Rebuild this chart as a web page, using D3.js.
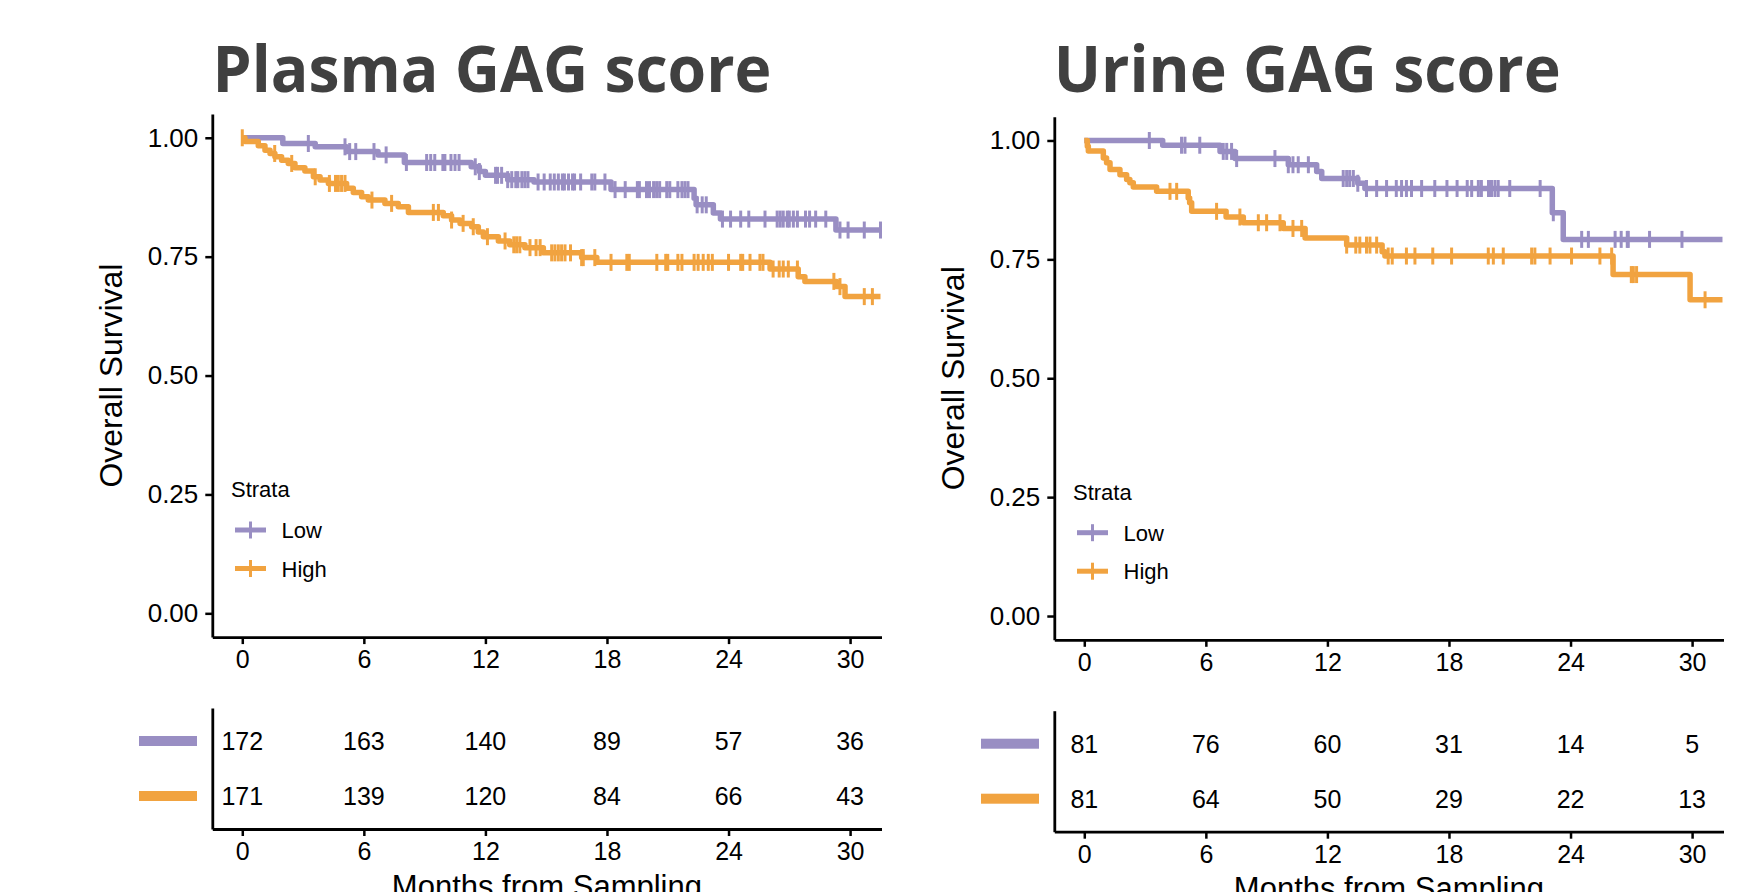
<!DOCTYPE html>
<html>
<head>
<meta charset="utf-8">
<script src="https://cdn.jsdelivr.net/npm/d3@7"></script>
<style>
    html, body { margin: 0; padding: 0; background: #fff; overflow: hidden; }
    svg { display: block; }
    text { font-family: "Liberation Sans", Arial, Helvetica, sans-serif; fill: #000; }
    .title { font-family: "Open Sans", sans-serif; font-weight: 700; fill: #404040; }
</style>
</head>
<body>
<div id="chart"></div>
<script>
'use strict';

// ---- data ----
const months = [0, 6, 12, 18, 24, 30];
const survTicks = [0, 0.25, 0.5, 0.75, 1];
const strata = ['Low', 'High'];
const strataColors = ['#998ec3', '#f1a340'];

// [time in months, survival after the drop]
const plasmaLowSteps = [[0, 1], [2.0, 0.988], [3.6, 0.981], [5.15, 0.971], [6.7, 0.964], [8.0, 0.948],
    [11.3, 0.939], [11.7, 0.929], [12.0, 0.921], [13.1, 0.912], [14.4, 0.907], [18.2, 0.891],
    [22.3, 0.873], [22.4, 0.859], [23.25, 0.842], [23.6, 0.829], [29.3, 0.806]];
const plasmaLowCensor = [3.26, 5.07, 5.3, 5.6, 6.5, 7.1, 8.1, 9.1, 9.3, 9.5, 9.9, 10.0, 10.3, 10.5, 10.7,
    11.5, 11.7, 12.5, 12.6, 12.8, 13.1, 13.3, 13.5, 13.6, 13.8, 13.95, 14.1, 14.6, 14.9, 15.2, 15.4,
    15.6, 15.8, 15.9, 16.1, 16.3, 16.4, 16.7, 17.25, 17.4, 17.9, 18.4, 18.9, 19.5, 19.6, 19.95, 20.1,
    20.3, 20.45, 20.6, 20.95, 21.1, 21.5, 21.7, 21.85, 22.0, 22.45, 22.7, 22.9, 23.7, 24.1, 24.6, 25.0,
    25.8, 26.4, 26.55, 26.7, 26.9, 27.0, 27.2, 27.4, 27.8, 28.0, 28.3, 28.8, 29.5, 29.9, 30.7, 31.5];
const plasmaHighSteps = [[0, 1], [0.13, 0.992], [0.79, 0.983], [1.12, 0.974], [1.37, 0.967], [1.61, 0.960],
    [1.94, 0.953], [2.27, 0.946], [2.6, 0.937], [3.09, 0.930], [3.51, 0.918], [3.84, 0.911], [4.25, 0.904],
    [5.15, 0.894], [5.48, 0.885], [5.89, 0.876], [6.22, 0.869], [7.04, 0.862], [7.7, 0.855], [8.2, 0.843],
    [9.92, 0.836], [10.33, 0.827], [10.75, 0.820], [11.32, 0.813], [11.65, 0.802], [11.9, 0.792],
    [12.64, 0.783], [13.2, 0.775], [13.95, 0.769], [14.86, 0.758], [16.75, 0.748], [17.5, 0.738],
    [26.05, 0.724], [27.44, 0.708], [27.77, 0.698], [29.34, 0.687], [29.75, 0.666]];
const plasmaHighCensor = [0, 1.6, 2.44, 3.6, 4.3, 4.6, 4.74, 4.9, 5.07, 6.4, 7.37, 9.43, 9.68, 10.33, 10.9,
    11.4, 12.1, 12.97, 13.4, 13.54, 13.7, 14.2, 14.5, 14.7, 15.27, 15.43, 15.6, 15.76, 15.93, 16.2,
    16.75, 16.83, 17.4, 18.2, 18.98, 19.1, 20.46, 20.9, 21.0, 21.5, 21.7, 22.3, 22.5, 22.75, 23.0, 23.2,
    24.0, 24.6, 24.7, 25.06, 25.55, 25.7, 26.2, 26.5, 26.7, 26.95, 27.4, 29.2, 29.5, 30.7, 31.1];
const plasmaEnd = 31.5;
const plasmaRiskLow = [172, 163, 140, 89, 57, 36];
const plasmaRiskHigh = [171, 139, 120, 84, 66, 43];

const urineLowSteps = [[0, 1], [3.87, 0.990], [6.7, 0.977], [7.44, 0.962], [10.07, 0.949], [11.47, 0.935],
    [11.72, 0.920], [13.5, 0.910], [13.85, 0.899], [23.1, 0.848], [23.64, 0.792]];
const urineLowCensor = [3.21, 4.8, 4.97, 5.7, 6.86, 7.03, 7.27, 7.52, 9.41, 10.07, 10.3, 10.56, 11.06,
    12.78, 12.95, 13.1, 13.28, 13.5, 13.93, 14.43, 14.92, 15.4, 15.66, 15.9, 16.15, 16.65, 17.3, 17.9,
    18.4, 18.9, 19.12, 19.45, 19.6, 19.95, 20.1, 20.27, 20.43, 21.0, 22.5, 23.15, 24.55, 24.88, 26.2,
    26.5, 26.8, 26.85, 27.9, 29.5];
const urineHighSteps = [[0, 1], [0.15, 0.988], [0.2, 0.978], [0.94, 0.963], [1.1, 0.953], [1.27, 0.939],
    [1.76, 0.928], [2.09, 0.918], [2.25, 0.911], [2.42, 0.902], [3.57, 0.893], [5.13, 0.879], [5.2, 0.869],
    [5.3, 0.851], [7.0, 0.839], [7.85, 0.827], [9.82, 0.815], [10.9, 0.795], [12.95, 0.780], [14.7, 0.766],
    [14.84, 0.757], [26.1, 0.718], [29.9, 0.665]];
const urineHighCensor = [4.23, 4.56, 6.53, 7.68, 8.59, 9.0, 9.66, 10.3, 10.73, 12.95, 13.4, 13.6, 13.93,
    14.1, 14.43, 15.0, 15.2, 15.9, 16.32, 17.2, 18.13, 19.94, 20.19, 20.68, 22.08, 22.24, 22.99, 24.05,
    25.45, 26.03, 27.0, 27.1, 27.26, 30.64];
const urineEnd = 31.5;
const urineRiskLow = [81, 76, 60, 31, 14, 5];
const urineRiskHigh = [81, 64, 50, 29, 22, 13];

// ---- svg ----
const W = 1754, H = 892;
const svg = d3.select('#chart').append('svg')
    .attr('width', W)
    .attr('height', H);

// Titles
svg.append('text').attr('class', 'title')
    .attr('x', 212.5).attr('y', 92)
    .attr('font-size', 64)
    .attr('textLength', 559).attr('lengthAdjust', 'spacingAndGlyphs')
    .text('Plasma GAG score');
svg.append('text').attr('class', 'title')
    .attr('x', 1053.7).attr('y', 92)
    .attr('font-size', 64)
    .attr('textLength', 507).attr('lengthAdjust', 'spacingAndGlyphs')
    .text('Urine GAG score');

// step value at time t
function survAt(steps, t) {
    let s = steps[0][1];
    steps.forEach(d => { if (d[0] <= t) s = d[1]; });
    return s;
}

function styleAxis(ax, fontSize) {
    ax.selectAll('.domain').attr('stroke', '#000').attr('stroke-width', 2.8);
    ax.selectAll('.tick line').attr('stroke', '#000').attr('stroke-width', 2.5);
    ax.selectAll('.tick text').attr('font-size', fontSize).attr('fill', '#000')
        .style('font-family', '"Liberation Sans", Arial, sans-serif');
}

function drawPanel(p) {
    const g = svg.append('g')
        .attr('transform', `translate(${p.dx},${p.dy})`);

    // Scales
    const x = d3.scaleLinear().domain([-1.48, 31.55]).range([212.3, 881.5]);
    const y = d3.scaleLinear().domain([-0.05, 1.05]).range([637.1, 114]);

    // Y axis
    const yAx = g.append('g')
        .attr('transform', `translate(${x.range()[0]},0)`)
        .call(d3.axisLeft(y).tickValues(survTicks).tickFormat(d3.format('.2f'))
            .tickSize(7).tickSizeOuter(0).tickPadding(7));
    styleAxis(yAx, 26);

    // X axis
    const xAx = g.append('g')
        .attr('transform', `translate(0,${y.range()[0]})`)
        .call(d3.axisBottom(x).tickValues(months).tickSize(7).tickSizeOuter(0).tickPadding(6.5));
    styleAxis(xAx, 25);

    // Y title
    g.append('text')
        .attr('transform', `translate(121.7,${(y.range()[0] + y.range()[1]) / 2}) rotate(-90)`)
        .attr('text-anchor', 'middle')
        .attr('font-size', 32)
        .text('Overall Survival');

    // Curves
    const line = d3.line()
        .curve(d3.curveStepAfter)
        .x(d => x(d[0]))
        .y(d => y(d[1]));

    p.series.forEach((s, i) => {
        const pts = s.steps.concat([[p.end, s.steps[s.steps.length - 1][1]]]);
        g.append('path')
            .datum(pts)
            .attr('fill', 'none')
            .attr('stroke', strataColors[i])
            .attr('stroke-width', 5.5)
            .attr('stroke-linejoin', 'round')
            .attr('d', line);

        g.append('g').selectAll('line')
            .data(s.censor)
            .join('line')
            .attr('x1', d => x(d)).attr('x2', d => x(d))
            .attr('y1', d => y(survAt(s.steps, d)) - 8.5)
            .attr('y2', d => y(survAt(s.steps, d)) + 8.5)
            .attr('stroke', strataColors[i])
            .attr('stroke-width', 3);
    });

    // Legend
    const leg = g.append('g').attr('class', 'legend');
    leg.append('text')
        .attr('x', 231).attr('y', 497.3)
        .attr('font-size', 22)
        .text('Strata');
    strata.forEach((name, i) => {
        const ly = 530 + i * 38.5;
        leg.append('line')
            .attr('x1', 235).attr('x2', 266).attr('y1', ly).attr('y2', ly)
            .attr('stroke', strataColors[i]).attr('stroke-width', 5);
        leg.append('line')
            .attr('x1', 250.5).attr('x2', 250.5).attr('y1', ly - 8.5).attr('y2', ly + 8.5)
            .attr('stroke', strataColors[i]).attr('stroke-width', 3);
        leg.append('text')
            .attr('x', 281.5).attr('y', ly + 8)
            .attr('font-size', 22)
            .text(name);
    });

    // Risk table
    const yT = d3.scalePoint().domain(strata).range([708, 829]).padding(0.6);
    const tAxY = g.append('g')
        .attr('transform', `translate(${x.range()[0]},0)`)
        .call(d3.axisLeft(yT).tickSize(0).tickSizeOuter(0).tickFormat(''));
    styleAxis(tAxY, 24);

    const tAxX = g.append('g')
        .attr('transform', `translate(0,${yT.range()[1]})`)
        .call(d3.axisBottom(x).tickValues(months).tickSize(7).tickSizeOuter(0).tickPadding(6.2));
    styleAxis(tAxX, 25);

    strata.forEach((name, i) => {
        g.append('rect')
            .attr('x', 139).attr('width', 58)
            .attr('y', yT(name) - 5).attr('height', 10)
            .attr('fill', strataColors[i]);
        g.append('g').selectAll('text')
            .data(p.risk[i])
            .join('text')
            .attr('x', (d, j) => x(months[j]))
            .attr('y', yT(name) + 9)
            .attr('text-anchor', 'middle')
            .attr('font-size', 25)
            .text(d => d);
    });

    // X title (cut by the lower edge, as in the original figure)
    g.append('text')
        .attr('x', (x.range()[0] + x.range()[1]) / 2)
        .attr('y', 896.5)
        .attr('text-anchor', 'middle')
        .attr('font-size', 31)
        .text('Months from Sampling');
}

drawPanel({
    dx: 0, dy: 0, end: plasmaEnd,
    series: [{steps: plasmaLowSteps, censor: plasmaLowCensor},
             {steps: plasmaHighSteps, censor: plasmaHighCensor}],
    risk: [plasmaRiskLow, plasmaRiskHigh]
});
drawPanel({
    dx: 842, dy: 2.7, end: urineEnd,
    series: [{steps: urineLowSteps, censor: urineLowCensor},
             {steps: urineHighSteps, censor: urineHighCensor}],
    risk: [urineRiskLow, urineRiskHigh]
});
</script>
</body>
</html>
